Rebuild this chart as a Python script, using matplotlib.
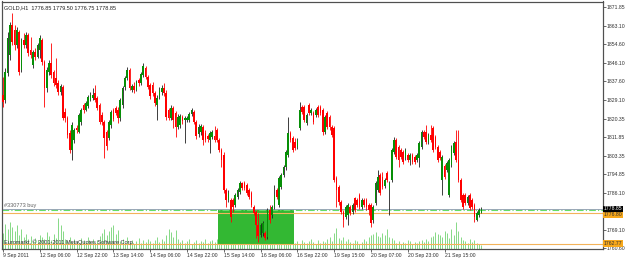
import matplotlib
matplotlib.use("Agg")
import matplotlib.pyplot as plt
from matplotlib.patches import Rectangle

# ---------------- data ----------------
opens = [
    1831.3, 1829.0, 1841.4, 1849.7, 1863.6, 1861.3, 1854.4, 1860.3, 1842.8, 1856.7,
    1854.4, 1859.0, 1852.1, 1845.1, 1851.1, 1848.8, 1852.1, 1856.7, 1846.5, 1834.5,
    1841.9, 1846.1, 1841.9, 1839.1, 1836.8, 1832.7, 1835.0, 1823.5, 1820.7, 1813.8,
    1806.0, 1810.6, 1816.1, 1814.3, 1818.9, 1826.7, 1824.4, 1826.2, 1829.0, 1829.9,
    1832.2, 1829.9, 1826.7, 1822.1, 1818.9, 1814.3, 1811.5, 1817.5, 1824.4, 1825.3,
    1824.4, 1820.7, 1826.7, 1835.0, 1839.1, 1842.8, 1833.6, 1835.5, 1833.6, 1838.2,
    1836.8, 1840.5, 1843.8, 1839.6, 1835.9, 1835.9, 1832.2, 1826.7, 1830.4, 1832.7,
    1834.5, 1832.2, 1824.4, 1820.7, 1825.3, 1823.0, 1816.6, 1817.5, 1821.2, 1819.8,
    1819.8, 1819.8, 1822.5, 1823.5, 1818.9, 1813.3, 1814.3, 1816.6, 1813.8, 1812.4,
    1810.6, 1812.0, 1812.4, 1815.2, 1810.6, 1806.0, 1803.7, 1787.5, 1782.9, 1782.9,
    1782.9, 1780.6, 1784.3, 1786.6, 1790.7, 1790.7, 1789.8, 1787.5, 1786.1, 1779.7,
    1777.4, 1771.4, 1766.8, 1767.7, 1767.7, 1765.8, 1778.3, 1776.0, 1779.7, 1787.5,
    1780.6, 1788.9, 1794.4, 1798.1, 1803.7, 1813.8, 1811.5, 1809.6, 1807.3, 1816.1,
    1825.8, 1825.8, 1818.4, 1826.7, 1823.0, 1823.0, 1822.1, 1825.8, 1825.8, 1824.4,
    1814.3, 1823.0, 1821.2, 1816.6, 1816.1, 1793.0, 1788.9, 1782.0, 1777.4, 1775.1,
    1776.0, 1779.7, 1777.4, 1783.8, 1782.9, 1785.2, 1779.7, 1782.9, 1782.9, 1780.6,
    1780.6, 1773.7, 1781.5, 1787.5, 1794.4, 1793.5, 1789.4, 1795.3, 1787.5, 1792.1,
    1805.0, 1810.6, 1807.3, 1806.0, 1805.0, 1802.3, 1803.7, 1801.3, 1803.7, 1802.7,
    1801.3, 1802.3, 1807.3, 1814.3, 1814.3, 1809.6, 1812.9, 1816.1, 1812.0, 1807.3,
    1805.0, 1792.1, 1798.6, 1796.7, 1785.2, 1799.0, 1804.6, 1809.6, 1801.3, 1792.1,
    1785.2, 1785.2, 1781.5, 1785.2, 1782.9, 1780.6, 1773.7, 1776.0, 1776.85,
]
highs = [
    1839.6, 1843.8, 1860.3, 1865.0, 1869.1, 1863.6, 1862.7, 1861.3, 1857.6, 1859.9,
    1860.3, 1859.9, 1858.0, 1852.1, 1853.0, 1855.3, 1859.0, 1857.6, 1847.4, 1844.2,
    1847.4, 1855.3, 1842.8, 1848.4, 1838.2, 1836.4, 1835.9, 1825.3, 1821.6, 1815.2,
    1818.9, 1816.1, 1817.5, 1823.0, 1825.3, 1827.6, 1828.5, 1831.3, 1832.7, 1834.5,
    1835.9, 1830.8, 1827.6, 1823.5, 1819.8, 1815.2, 1819.8, 1824.4, 1825.3, 1826.2,
    1825.8, 1829.9, 1835.5, 1840.1, 1844.2, 1843.8, 1836.4, 1837.3, 1838.2, 1839.1,
    1841.9, 1846.1, 1844.7, 1840.5, 1836.8, 1837.3, 1833.1, 1831.3, 1835.0, 1835.9,
    1836.8, 1833.6, 1825.3, 1826.7, 1826.2, 1823.9, 1822.5, 1822.5, 1822.1, 1821.6,
    1821.6, 1823.5, 1825.3, 1824.4, 1819.8, 1817.9, 1817.9, 1817.5, 1815.2, 1813.3,
    1814.7, 1815.2, 1817.0, 1816.1, 1811.5, 1806.9, 1805.0, 1788.4, 1787.5, 1783.8,
    1783.8, 1786.1, 1788.4, 1791.7, 1791.2, 1791.7, 1790.7, 1788.4, 1787.1, 1780.6,
    1778.3, 1776.9, 1772.3, 1773.2, 1768.6, 1779.2, 1780.6, 1780.6, 1789.8, 1788.4,
    1793.9, 1795.3, 1799.0, 1806.0, 1821.2, 1814.7, 1812.4, 1811.5, 1811.5, 1828.1,
    1826.7, 1826.7, 1823.0, 1827.6, 1825.3, 1823.9, 1825.3, 1826.7, 1826.7, 1825.3,
    1822.1, 1823.9, 1822.1, 1817.5, 1817.0, 1793.9, 1789.8, 1782.9, 1778.3, 1780.6,
    1781.5, 1780.6, 1781.5, 1784.3, 1783.8, 1786.1, 1783.8, 1783.8, 1783.8, 1781.5,
    1781.5, 1780.6, 1791.7, 1796.7, 1795.3, 1795.8, 1793.0, 1796.3, 1791.7, 1806.9,
    1812.0, 1811.5, 1808.3, 1806.9, 1806.0, 1806.9, 1804.6, 1804.6, 1804.6, 1803.7,
    1804.6, 1810.1, 1815.2, 1815.2, 1817.5, 1813.8, 1817.5, 1817.0, 1812.9, 1808.3,
    1806.0, 1803.7, 1799.5, 1800.9, 1802.3, 1808.3, 1810.1, 1815.2, 1815.2, 1793.0,
    1786.1, 1786.1, 1785.2, 1786.1, 1783.8, 1781.5, 1777.8, 1779.2, 1779.50,
]
lows = [
    1825.8, 1827.6, 1840.1, 1847.4, 1854.4, 1852.1, 1853.0, 1840.5, 1841.9, 1853.0,
    1853.0, 1849.3, 1848.4, 1843.8, 1847.4, 1848.4, 1848.4, 1845.1, 1825.8, 1832.7,
    1840.5, 1839.1, 1835.5, 1834.5, 1831.3, 1831.3, 1819.8, 1818.9, 1811.5, 1804.6,
    1801.3, 1809.2, 1813.8, 1813.8, 1817.5, 1823.0, 1823.9, 1825.3, 1828.5, 1829.0,
    1828.1, 1824.4, 1817.9, 1817.5, 1802.3, 1806.0, 1810.6, 1816.1, 1819.3, 1822.1,
    1818.4, 1819.3, 1825.3, 1833.6, 1838.2, 1833.6, 1832.7, 1832.2, 1833.1, 1835.5,
    1835.9, 1839.6, 1838.7, 1834.1, 1829.5, 1830.8, 1826.2, 1819.8, 1829.5, 1831.3,
    1830.8, 1819.8, 1819.8, 1819.8, 1816.1, 1812.0, 1815.6, 1816.1, 1817.9, 1809.2,
    1818.9, 1818.9, 1821.6, 1817.9, 1811.0, 1812.0, 1812.9, 1808.3, 1809.6, 1809.6,
    1804.6, 1811.0, 1809.6, 1809.6, 1805.0, 1798.1, 1786.1, 1779.7, 1782.0, 1772.8,
    1777.4, 1779.7, 1783.4, 1785.7, 1787.5, 1787.5, 1785.2, 1783.4, 1779.7, 1776.0,
    1765.4, 1763.5, 1765.8, 1766.3, 1764.5, 1764.9, 1772.3, 1774.6, 1778.8, 1783.4,
    1779.7, 1788.0, 1793.5, 1796.7, 1802.7, 1809.6, 1805.0, 1806.0, 1806.4, 1815.2,
    1822.5, 1818.9, 1817.5, 1822.1, 1822.1, 1817.9, 1821.2, 1821.2, 1822.1, 1812.9,
    1813.3, 1815.6, 1815.2, 1812.0, 1791.2, 1779.7, 1780.6, 1776.4, 1770.4, 1774.1,
    1771.4, 1776.0, 1776.4, 1777.4, 1779.7, 1778.8, 1778.8, 1779.7, 1778.3, 1776.0,
    1770.4, 1772.3, 1780.6, 1786.6, 1785.2, 1788.0, 1788.4, 1791.2, 1776.0, 1791.2,
    1804.1, 1801.8, 1798.1, 1801.8, 1799.5, 1801.3, 1800.4, 1799.0, 1799.5, 1799.5,
    1800.4, 1798.1, 1806.4, 1811.0, 1808.7, 1808.7, 1809.6, 1805.0, 1806.4, 1800.4,
    1801.3, 1785.2, 1792.6, 1795.8, 1784.3, 1798.1, 1803.7, 1800.4, 1791.2, 1782.0,
    1778.8, 1780.6, 1780.6, 1778.3, 1778.8, 1772.8, 1773.2, 1775.1, 1776.75,
]
closes = [
    1828.1, 1841.9, 1857.6, 1863.6, 1855.7, 1854.4, 1861.3, 1841.9, 1856.7, 1854.4,
    1859.0, 1850.7, 1849.7, 1851.1, 1848.8, 1854.4, 1857.6, 1846.5, 1834.5, 1842.8,
    1846.1, 1840.5, 1836.8, 1835.9, 1832.7, 1835.5, 1820.7, 1820.7, 1812.9, 1806.0,
    1817.5, 1815.2, 1815.2, 1822.1, 1824.4, 1824.4, 1827.6, 1830.4, 1831.3, 1831.3,
    1829.0, 1825.3, 1818.9, 1818.9, 1811.5, 1807.8, 1818.9, 1823.5, 1820.2, 1823.0,
    1820.7, 1829.0, 1834.5, 1839.1, 1842.8, 1834.5, 1835.5, 1833.6, 1837.3, 1836.8,
    1841.0, 1844.7, 1839.6, 1835.0, 1830.8, 1832.2, 1827.6, 1829.9, 1833.6, 1834.5,
    1832.2, 1821.2, 1820.7, 1825.3, 1819.8, 1816.6, 1821.2, 1821.6, 1819.3, 1820.7,
    1820.7, 1822.5, 1824.4, 1818.9, 1812.4, 1816.6, 1817.0, 1810.6, 1810.6, 1811.0,
    1813.8, 1814.3, 1810.6, 1810.6, 1806.0, 1801.3, 1787.5, 1782.9, 1786.1, 1775.1,
    1779.7, 1785.2, 1787.5, 1790.7, 1788.4, 1788.4, 1786.1, 1784.3, 1780.6, 1776.9,
    1771.4, 1766.3, 1771.4, 1772.3, 1765.4, 1778.3, 1773.7, 1779.7, 1785.2, 1784.3,
    1793.0, 1794.4, 1798.1, 1805.0, 1813.8, 1810.6, 1806.0, 1806.9, 1810.6, 1824.4,
    1823.5, 1819.8, 1822.1, 1823.0, 1824.4, 1818.9, 1824.4, 1822.1, 1823.0, 1814.3,
    1821.2, 1816.6, 1816.6, 1812.9, 1792.1, 1787.5, 1782.0, 1777.4, 1773.7, 1779.7,
    1780.6, 1776.9, 1780.6, 1778.3, 1780.6, 1779.7, 1782.9, 1780.6, 1779.7, 1778.3,
    1772.3, 1779.7, 1790.7, 1793.5, 1786.1, 1788.9, 1792.1, 1792.1, 1790.7, 1806.0,
    1810.6, 1802.7, 1801.3, 1802.7, 1800.4, 1806.0, 1801.3, 1803.7, 1800.4, 1800.4,
    1803.7, 1809.2, 1814.3, 1812.0, 1809.6, 1812.9, 1810.6, 1806.0, 1807.3, 1801.3,
    1802.3, 1802.7, 1793.5, 1800.0, 1801.3, 1807.3, 1809.2, 1801.3, 1792.1, 1782.9,
    1779.7, 1781.5, 1784.3, 1779.2, 1779.7, 1775.1, 1776.9, 1778.3, 1778.85,
]
volumes = [
    800, 1250, 1000, 1350, 1100, 900, 1200, 700, 1000,
    600, 750, 500, 650, 400, 550, 450, 700, 600, 500, 850, 650, 450, 750, 550,
    1550, 1200, 900, 500,
    450, 600, 350, 500, 400, 300, 550, 450, 350, 600, 400, 500, 300, 450, 650,
    800, 1000, 700, 900, 1100, 1200, 750, 950,
    400, 500, 300, 600, 350, 450, 250, 400, 550, 300, 450, 350, 500, 400, 300, 450, 600, 350, 500, 400,
    700, 1000, 850, 600, 950, 500,
    350, 450, 300, 400, 500, 250, 350, 450, 300, 400, 350, 500, 300, 400, 450, 350, 500, 400,
    450, 550, 700, 600, 500, 650, 400, 750, 550, 450, 600, 500, 400, 650, 800, 700,
    600, 550, 450, 500, 650, 400, 600, 750, 900, 550, 450, 600, 500, 400, 550, 350,
    300, 400, 250, 450, 350, 300, 400, 500, 350, 250, 450, 300, 400, 350, 500, 600, 400, 800, 1050,
    550, 450, 600, 400, 500, 350, 300, 450, 400, 250, 350, 500, 400, 600, 700,
    750, 850, 650, 600, 800, 700, 1000, 600, 550, 450,
    300, 400, 250, 350, 300, 450, 400, 250, 350, 300, 400, 450, 350, 500, 400, 600,
    650, 850, 750, 700, 600, 900, 800, 550, 1000, 700, 1350, 900, 600, 450,
    400, 300, 500, 350, 450, 300, 250, 200,
]
time_labels = ["9 Sep 2011", "12 Sep 06:00", "12 Sep 22:00", "13 Sep 14:00",
               "14 Sep 06:00", "14 Sep 22:00", "15 Sep 14:00", "16 Sep 06:00",
               "16 Sep 22:00", "19 Sep 15:00", "20 Sep 07:00", "20 Sep 23:00",
               "21 Sep 15:00"]
label_bars = [0, 16, 32, 48, 64, 80, 96, 112, 128, 144, 160, 176, 192]
price_ticks = [1871.85, 1863.10, 1854.60, 1846.10, 1837.60, 1829.10, 1820.35,
               1811.85, 1803.35, 1794.85, 1786.10, 1769.10, 1760.60]
bid_price = 1778.85
order_price = 1778.10
level_upper = 1776.80
level_lower = 1762.77
zone_start_bar, zone_end_bar = 94, 126
zone_top, zone_bottom = 1778.60, 1762.77
title = "GOLD,H1  1776.85 1779.50 1776.75 1778.85"

# ---------------- figure ----------------
plt.rcParams['font.family'] = ['Liberation Sans', 'DejaVu Sans']
FS = 3.7
W, H = 625, 259
fig = plt.figure(figsize=(W / 100, H / 100), dpi=100)
fig.patch.set_facecolor('white')
pos = [2 / W, 1 - 249 / H, (603 - 2) / W, (249 - 1.5) / H]
axv = fig.add_axes(pos)
ax = axv.twinx()

n = len(closes)
xs = list(range(n))
axv.set_xlim(-0.435, 260.87)
axv.set_ylim(0, 12350)
ax.set_ylim(1760.34, 1874.39)

# volumes
axv.vlines(xs, 0, volumes, color='#86d986', lw=0.7)
axv.set_yticks([])

# zone rectangle
ax.add_patch(Rectangle((zone_start_bar - 0.5, zone_bottom), zone_end_bar - zone_start_bar + 1,
                       zone_top - zone_bottom, facecolor='#33b833', edgecolor='none', zorder=1))

# horizontal levels
ax.axhline(bid_price, color='#9aa6b8', lw=0.7, zorder=2)
ax.axhline(order_price, color='#66dd66', lw=0.8, ls=(0, (6, 2, 1, 2)), zorder=2)
ax.axhline(level_upper, color='#f3b35a', lw=0.8, zorder=2)
ax.axhline(level_lower, color='#f3b35a', lw=0.8, zorder=2)

# candles
for i in range(n):
    o, h, l, c = opens[i], highs[i], lows[i], closes[i]
    bull = c >= o
    wick_col = '#1e1e1e' if bull else '#ff0000'
    body_col = '#078f07' if bull else '#ff0000'
    ax.vlines(i, l, h, color=wick_col, lw=0.6, zorder=3)
    ax.bar(i, max(abs(c - o), 0.25), bottom=min(o, c), width=0.75,
           color=body_col, edgecolor='none', zorder=4)

# axes styling
for a in (ax, axv):
    for sp in a.spines.values():
        sp.set_color('#505050')
        sp.set_linewidth(0.8)

ax.set_yticks(price_ticks)
ax.set_yticklabels([f"{p:.2f}" for p in price_ticks])
ax.tick_params(axis='y', direction='out', length=2, width=0.6, color='#505050',
               labelsize=FS, labelcolor='#303030', pad=0.8)
axv.set_xticks(label_bars)
axv.set_xticklabels(time_labels)
axv.tick_params(axis='x', direction='out', length=2, width=0.6, color='#505050',
                labelsize=FS, labelcolor='#303030', pad=1)
for t in axv.get_xticklabels():
    t.set_horizontalalignment('left')

# right-side price tags
ytr = ax.get_yaxis_transform()
tag_x = 1.0018
ax.text(tag_x, level_upper - 0.6, f"{level_upper:.2f}", transform=ytr, ha='left', va='center',
        fontsize=FS, color='#303030', clip_on=False, zorder=5,
        bbox=dict(boxstyle='square,pad=0.15', fc='#f7a81b', ec='none'))
ax.text(tag_x, bid_price, f"{bid_price:.2f}", transform=ytr, ha='left', va='center',
        fontsize=FS, color='white', clip_on=False, zorder=6,
        bbox=dict(boxstyle='square,pad=0.15', fc='black', ec='none'))
ax.text(tag_x, level_lower, f"{level_lower:.2f}", transform=ytr, ha='left', va='center',
        fontsize=FS, color='#303030', clip_on=False, zorder=5,
        bbox=dict(boxstyle='square,pad=0.15', fc='#f7a81b', ec='none'))

# texts
ax.text(0.004, 0.985, title, transform=ax.transAxes, ha='left', va='top',
        fontsize=FS + 0.3, color='#202020')
ax.text(0.004, order_price + 1.2, "#330773 buy", ha='left', va='bottom',
        transform=ytr, fontsize=FS + 0.3, color='#606060')
ax.text(0.004, 0.018, "Euromarkt, \u00a9 2001-2011 MetaQuotes Software Corp.",
        transform=ax.transAxes, ha='left', va='bottom', fontsize=FS + 0.3,
        color='#303030', zorder=6)

fig.savefig('out.png', dpi=100, facecolor='white')
